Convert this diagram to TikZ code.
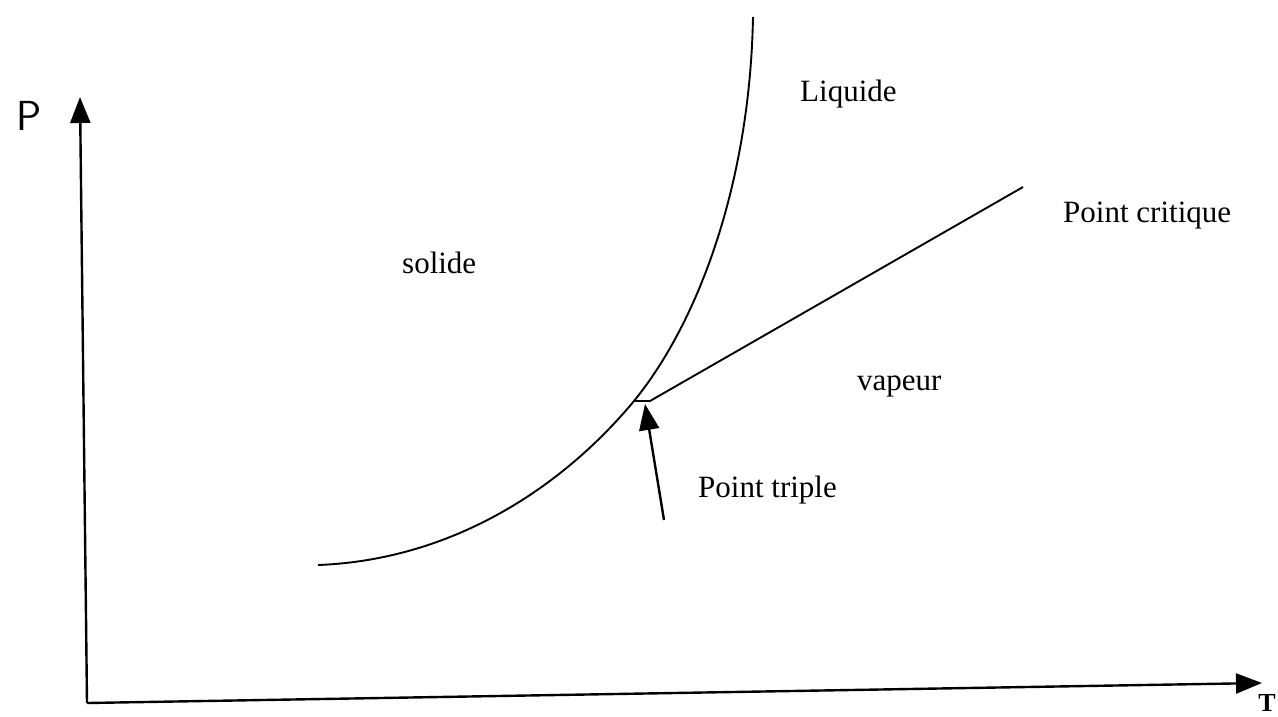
\documentclass[tikz,border=0pt]{standalone}
\usepackage{fontspec}
\setmainfont{Liberation Serif}
\usepackage{tikz}
\usetikzlibrary{arrows.meta,positioning}

\begin{document}
\begin{tikzpicture}[x=1pt,y=-1pt,>={Triangle[length=26pt,width=20pt]}]
\tikzstyle{lbl}=[inner sep=0pt,anchor=base west,font=\fontsize{31}{34}\selectfont]
\tikzstyle{axis}=[line width=2.4pt]
\useasboundingbox (0,0) rectangle (1278,716);
% axes
\coordinate (orig) at (87,703);
\coordinate (ptop) at (80,97);
\coordinate (tend) at (1262,683);
\draw[axis,->] (orig)--(ptop);
\draw[axis,->] (orig)--(tend);
\node[inner sep=0pt,anchor=north west,font=\sffamily\fontsize{42}{44}\selectfont] (plbl) at (16,101) {P};
\node[inner sep=0pt,anchor=base east,font=\bfseries\fontsize{26}{28}\selectfont] (tlbl) at (1276,711) {T};
% curves
\coordinate (tp) at (634,401);
\coordinate (crit) at (1023,187);
\draw[line width=1.9pt] (318,565) .. controls (450,560) and (560,490) .. (tp)
  .. controls (700,320) and (750,180) .. (753,17);
\draw[line width=1.9pt] (tp)--(650,401)--(crit);
% labels
\node[lbl] (solide) at (402,273) {solide};
\node[lbl] (liquide) at (800,101) {Liquide};
\node[lbl] (vapeur) at (857,390) {vapeur};
\node[lbl] (pcrit) at (1063,222) {Point critique};
\node[lbl] (ptriple) at (698,497) {Point triple};
\coordinate (arrfoot) at (664,520);
\draw[line width=2.4pt,->] (arrfoot)--(645,404);
\end{tikzpicture}
\end{document}
